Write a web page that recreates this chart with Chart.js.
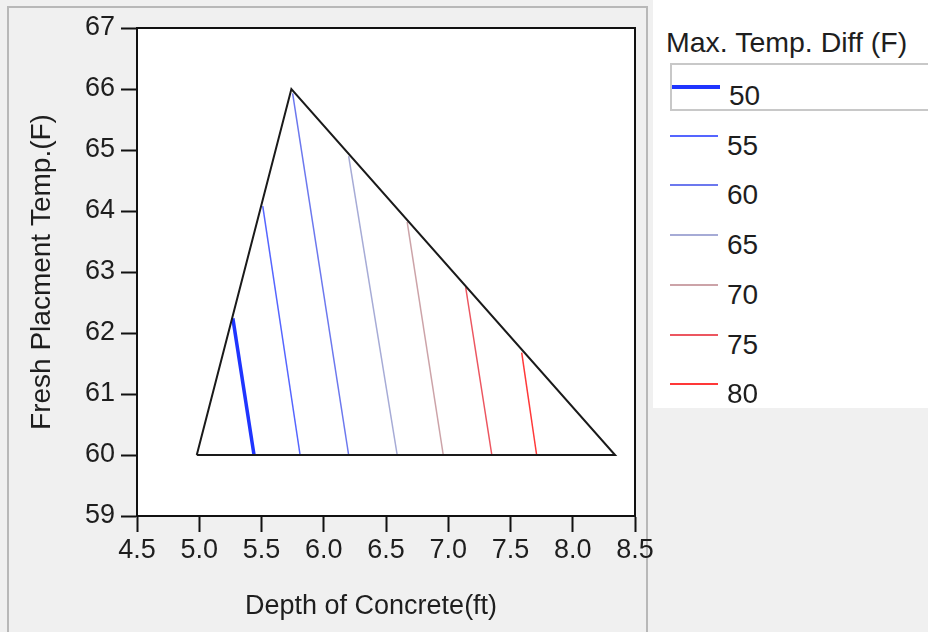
<!DOCTYPE html>
<html>
<head>
<meta charset="utf-8">
<script src="https://cdn.jsdelivr.net/npm/chart.js@4.4.1/dist/chart.umd.min.js"></script>
<style>
    html, body { margin: 0; padding: 0; background: #f0f0f0; }
    body { width: 928px; height: 632px; position: relative; overflow: hidden;
           font-family: "Liberation Sans", Arial, sans-serif; color: #1e1e1e; }
    #panel { position: absolute; left: 7px; top: 6px; width: 637px; height: 640px;
             border: 2px solid #b8b8b8; border-bottom: none; }
    #chart { position: absolute; left: 0; top: 0; }
    #legend { position: absolute; left: 653px; top: 0; width: 275px; height: 408px;
              background: #fff; z-index: 2; }
    #legend .title { position: absolute; left: 13px; top: 26px; font-size: 28.5px; line-height: 32px; white-space: nowrap; }
    #legend .item { position: absolute; left: 17px; width: 260px; height: 48px; }
    #legend .item.sel { border: 2px solid #c8c8c8; border-right: none; box-sizing: border-box; }
    #legend .swatch { position: absolute; left: 0; width: 48px; }
    #legend .label { position: absolute; left: 57px; font-size: 28px; line-height: 32px; }
</style>
</head>
<body>
<div id="panel"></div>
<canvas id="chart" width="928" height="632"></canvas>
<div id="legend"></div>
<script>
(function () {
    "use strict";

    // Contour levels (Max. Temp. Diff, F)
    const levels = [50, 55, 60, 65, 70, 75, 80];
    const levelColors = ["#1f35ff", "#5565ff", "#6c78ee", "#a6abd6", "#cca3a8", "#ec5660", "#ff3838"];

    // triangle of the feasible region
    const boundaryX = [4.98, 5.74, 8.34, 4.98];
    const boundaryY = [60, 66, 60, 60];

    // each contour line: top end on the triangle edge, bottom end at 60 F
    const contourTopX = [5.27, 5.51, 5.75, 6.20, 6.67, 7.14, 7.59];
    const contourTopY = [62.24, 64.08, 65.93, 64.90, 63.82, 62.75, 61.68];
    const contourBottomX = [5.44, 5.81, 6.20, 6.59, 6.96, 7.35, 7.71];
    const contourBottomY = [60, 60, 60, 60, 60, 60, 60];

    const xTicks = [4.5, 5.0, 5.5, 6.0, 6.5, 7.0, 7.5, 8.0, 8.5];
    const yTicks = [59, 60, 61, 62, 63, 64, 65, 66, 67];
    const xTitle = "Depth of Concrete(ft)";

    const fontFamily = '"Liberation Sans", Arial, sans-serif';
    const textColor = "#1e1e1e";

    const datasets = [{
        label: "boundary",
        data: boundaryX.map((x, i) => ({ x: x, y: boundaryY[i] })),
        showLine: true,
        borderColor: "#1a1a1a",
        borderWidth: 2,
        pointRadius: 0,
        tension: 0,
    }];
    levels.forEach((lvl, i) => {
        datasets.push({
            label: String(lvl),
            data: [
                { x: contourTopX[i], y: contourTopY[i] },
                { x: contourBottomX[i], y: contourBottomY[i] },
            ],
            showLine: true,
            borderColor: levelColors[i],
            borderWidth: i === 0 ? 3.5 : 1.5,
            pointRadius: 0,
        });
    });

    // white plot area, closed frame and the x axis title (sits left of centre)
    const frame = {
        id: "frame",
        beforeDatasetsDraw(chart) {
            const a = chart.chartArea, ctx = chart.ctx;
            ctx.save();
            ctx.fillStyle = "#fff";
            ctx.fillRect(a.left, a.top, a.right - a.left, a.bottom - a.top);
            ctx.restore();
        },
        afterDraw(chart) {
            const a = chart.chartArea, ctx = chart.ctx;
            ctx.save();
            ctx.strokeStyle = "#111";
            ctx.lineWidth = 2;
            ctx.strokeRect(a.left, a.top, a.right - a.left, a.bottom - a.top);
            ctx.fillStyle = textColor;
            ctx.font = "27px " + fontFamily;
            ctx.textAlign = "center";
            ctx.textBaseline = "middle";
            ctx.fillText(xTitle, a.left + (a.right - a.left) * 0.47, 607);
            ctx.restore();
        },
    };

    const ctx = document.getElementById("chart").getContext("2d");
    new Chart(ctx, {
        type: "scatter",
        data: { datasets: datasets },
        plugins: [frame],
        options: {
            responsive: false,
            animation: false,
            layout: { padding: { left: 0, top: 28, right: 293, bottom: 0 } },
            plugins: { legend: { display: false }, tooltip: { enabled: false } },
            scales: {
                x: {
                    type: "linear",
                    min: 4.5,
                    max: 8.5,
                    afterBuildTicks: (s) => { s.ticks = xTicks.map(v => ({ value: v })); },
                    afterFit: (s) => { s.height = 116; },
                    grid: { drawOnChartArea: false, drawTicks: true, tickLength: 16, tickColor: "#111", tickWidth: 2 },
                    border: { display: true, color: "#111", width: 2 },
                    ticks: {
                        padding: 2,
                        color: textColor,
                        font: { family: fontFamily, size: 27 },
                        maxRotation: 0,
                        autoSkip: false,
                        callback: (v) => Number(v).toFixed(1),
                    },
                    title: { display: false },
                },
                y: {
                    type: "linear",
                    min: 59,
                    max: 67,
                    afterBuildTicks: (s) => { s.ticks = yTicks.map(v => ({ value: v })); },
                    afterFit: (s) => { s.width = 137; },
                    grid: { drawOnChartArea: false, drawTicks: true, tickLength: 16, tickColor: "#111", tickWidth: 2 },
                    border: { display: true, color: "#111", width: 2 },
                    ticks: {
                        padding: 6,
                        color: textColor,
                        font: { family: fontFamily, size: 27 },
                        autoSkip: false,
                    },
                    title: {
                        display: true,
                        text: "Fresh Placment Temp.(F)",
                        color: textColor,
                        font: { family: fontFamily, size: 28 },
                        padding: { top: 25, bottom: 0 },
                    },
                },
            },
        },
    });

    // legend panel on the right
    const legend = document.getElementById("legend");
    const title = document.createElement("div");
    title.className = "title";
    title.textContent = "Max. Temp. Diff (F)";
    legend.appendChild(title);
    levels.forEach((lvl, i) => {
        const item = document.createElement("div");
        item.className = "item" + (i === 0 ? " sel" : "");
        item.style.top = (63 + i * 49.7) + "px";
        const sw = document.createElement("div");
        sw.className = "swatch";
        const w = i === 0 ? 4 : 2;
        sw.style.top = (23 - w / 2 - (i === 0 ? 1 : 0)) + "px";
        sw.style.height = w + "px";
        sw.style.background = levelColors[i];
        const lb = document.createElement("div");
        lb.className = "label";
        lb.style.top = (i === 0 ? 15 : 17) + "px";
        lb.textContent = String(lvl);
        item.appendChild(sw);
        item.appendChild(lb);
        legend.appendChild(item);
    });
})();
</script>
</body>
</html>
